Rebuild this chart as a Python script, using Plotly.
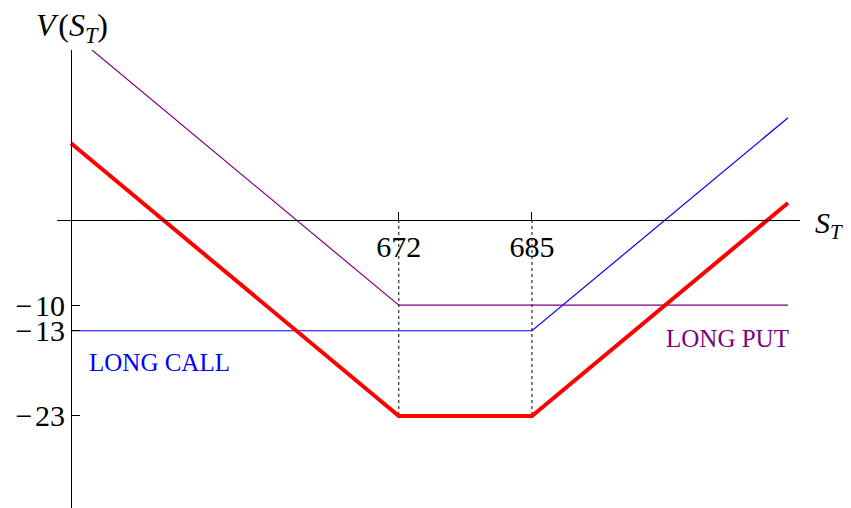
import plotly.graph_objects as go

# Strangle: long put K=672 (premium 10), long call K=685 (premium 13)
s_total = [640, 672, 685, 710]
v_total = [9, -23, -23, 2]
s_put = [640, 672, 710]
v_put = [22, -10, -10]
s_call = [640, 685, 710]
v_call = [-13, -13, 12]
strikes = [672, 685]
strike_floor = -23
x_ticks = [672, 685]
x_tick_labels = ["672", "685"]
y_ticks = [-10, -13, -23]
y_tick_labels = ["\u2212\u200a10", "\u2212\u200a13", "\u2212\u200a23"]

font_family = "Liberation Serif"

# page offset (default body margin of the html page)
OFF = 8
W, H = 851 - OFF, 508 - OFF
pl, pt = 57 - OFF, 50 - OFF
pr = W - (800 - OFF)
pb = 0
pw, ph = W - pl - pr, H - pt - pb
x0, x1 = 638.63, 711.17
y0, y1 = -33.8, 19.95


def px(xp):
    # page pixel -> paper fraction
    return (xp - OFF - pl) / pw


def py(yp):
    return (H - pb - (yp - OFF)) / ph


fig = go.Figure()
for k in strikes:
    fig.add_trace(go.Scatter(x=[k, k], y=[0, strike_floor], mode="lines",
                             line=dict(color="black", width=1, dash="3px,3px"),
                             hoverinfo="skip", showlegend=False))
fig.add_trace(go.Scatter(x=s_put, y=v_put, mode="lines",
                         line=dict(color="#800080", width=1.2), showlegend=False))
fig.add_trace(go.Scatter(x=s_call, y=v_call, mode="lines",
                         line=dict(color="#0000FF", width=1.2), showlegend=False))
fig.add_trace(go.Scatter(x=s_total, y=v_total, mode="lines",
                         line=dict(color="#FF0000", width=4), showlegend=False))

fig.update_layout(
    width=W, height=H,
    margin=dict(l=pl, r=pr, t=pt, b=pb, autoexpand=False),
    paper_bgcolor="white", plot_bgcolor="white",
    font=dict(family=font_family, color="black"),
    xaxis=dict(range=[x0, x1], showgrid=False, zeroline=False, automargin=False,
               showline=True, linecolor="black", linewidth=1,
               anchor="free", position=(0 - y0) / (y1 - y0),
               tickmode="array", tickvals=x_ticks, ticktext=x_tick_labels,
               ticks="inside", ticklen=8, tickcolor="black", tickwidth=1,
               tickfont=dict(family=font_family, size=30, color="black")),
    yaxis=dict(range=[y0, y1], showgrid=False, zeroline=False, automargin=False,
               showline=True, linecolor="black", linewidth=1,
               anchor="free", position=(640 - x0) / (x1 - x0),
               tickmode="array", tickvals=y_ticks, ticktext=y_tick_labels,
               ticks="inside", ticklen=8, tickcolor="black", tickwidth=1,
               tickfont=dict(family=font_family, size=30, color="black")),
    annotations=[
        dict(x=648.6, y=-16.7, xref="x", yref="y", text="LONG CALL",
             showarrow=False, font=dict(family=font_family, size=25, color="#0000FF")),
        dict(x=704.1, y=-13.9, xref="x", yref="y", text="LONG PUT",
             showarrow=False, font=dict(family=font_family, size=25, color="#800080")),
        dict(x=px(72), y=py(27), xref="paper", yref="paper", xanchor="center", yanchor="middle",
             text="<i>V</i>\u200a(<i>S</i><sub><i>T</i></sub>)", showarrow=False, borderpad=0,
             font=dict(family=font_family, size=32, color="black")),
        dict(x=px(814), y=py(225), xref="paper", yref="paper", xanchor="left", yanchor="middle",
             text="<i>S</i><sub><i>T</i></sub>", showarrow=False, borderpad=0,
             font=dict(family=font_family, size=30, color="black")),
    ],
)

fig.write_html("out.html")
